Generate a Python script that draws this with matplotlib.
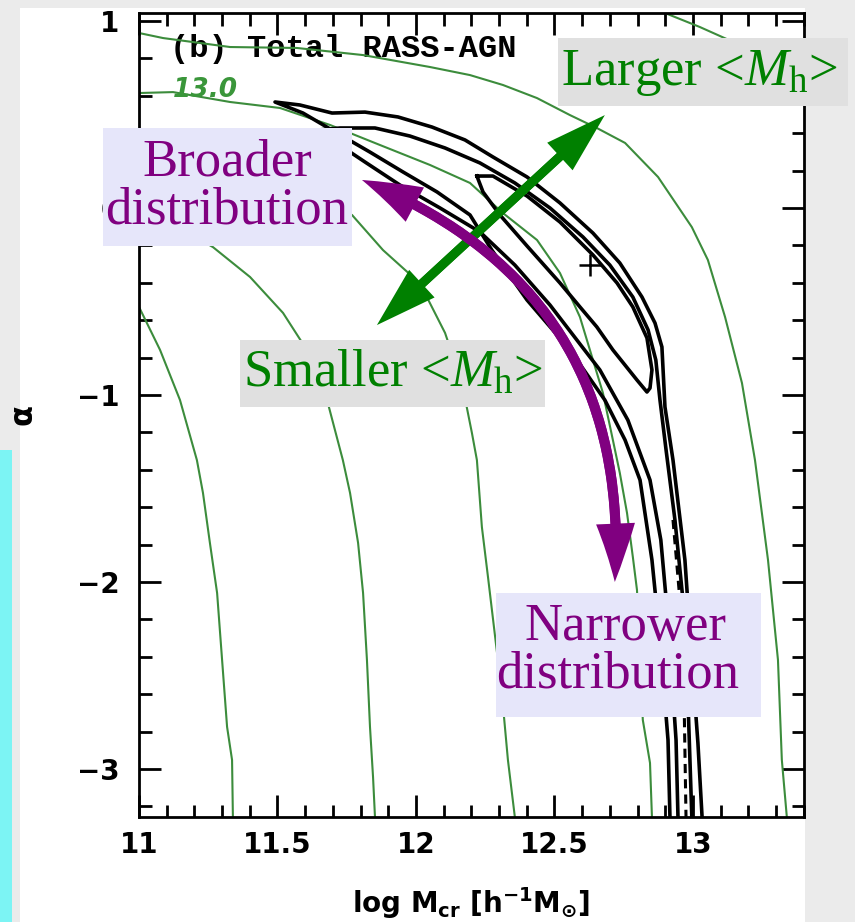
import numpy as np
import matplotlib
matplotlib.use('Agg')
import matplotlib.pyplot as plt
import matplotlib.patches as patches
from matplotlib.ticker import MultipleLocator

plt.rcParams['mathtext.fontset'] = 'custom'
plt.rcParams['mathtext.rm'] = 'Liberation Serif'
plt.rcParams['mathtext.it'] = 'Liberation Serif:italic'
plt.rcParams['mathtext.bf'] = 'Liberation Serif:bold'

# %%

# data: (log M_cr, alpha)

x_ticks = [11, 11.5, 12, 12.5, 13]
x_ticklabels = ['11', '11.5', '12', '12.5', '13']
y_ticks = [1, 0, -1, -2, -3]
y_ticklabels = ['1', '0', '\u22121', '\u22122', '\u22123']

# green iso-<M_h> curves
mh_a_x = [11.000, 11.076, 11.148, 11.209, 11.231, 11.256, 11.282, 11.300, 11.318, 11.336, 11.339]
mh_a_y = [-0.529, -0.759, -1.027, -1.348, -1.524, -1.791, -2.059, -2.417, -2.775, -2.952, -3.257]

mh_b_x = [11.000, 11.130, 11.267, 11.401, 11.520, 11.606, 11.679, 11.736, 11.762, 11.791, 11.809,
          11.823, 11.834, 11.845, 11.852]
mh_b_y = [-0.021, -0.091, -0.209, -0.369, -0.561, -0.759, -1.027, -1.348, -1.524, -1.791, -2.059,
          -2.417, -2.775, -3.043, -3.257]

mh_c_x = [11.000, 11.401, 11.769, 11.881, 11.989, 12.032, 12.105, 12.166, 12.202, 12.220, 12.238,
          12.260, 12.310, 12.332, 12.357]
mh_c_y = [0.310, 0.150, -0.037, -0.225, -0.369, -0.455, -0.668, -0.936, -1.203, -1.348, -1.706,
          -1.973, -2.594, -2.952, -3.257]

mh_d_x = [11.000, 11.123, 11.329, 11.509, 11.690, 11.870, 12.051, 12.195, 12.314, 12.437, 12.520,
          12.592, 12.628, 12.675, 12.711, 12.736, 12.762, 12.783, 12.798, 12.819, 12.845, 12.852]
mh_d_y = [0.615, 0.620, 0.567, 0.535, 0.444, 0.337, 0.230, 0.134, -0.027, -0.171, -0.348,
          -0.583, -0.759, -0.989, -1.241, -1.417, -1.631, -1.866, -2.043, -2.738, -2.968, -3.257]

mh_e_x = [11.000, 11.087, 11.329, 11.570, 11.809, 12.051, 12.195, 12.314, 12.437, 12.556, 12.653,
          12.755, 12.874, 12.996, 13.054, 13.116, 13.177, 13.224, 13.271, 13.307, 13.321, 13.339]
mh_e_y = [0.936, 0.909, 0.861, 0.856, 0.818, 0.754, 0.711, 0.658, 0.588, 0.497, 0.428,
          0.348, 0.166, -0.102, -0.278, -0.583, -0.936, -1.348, -1.882, -2.417, -2.952, -3.257]

mh_f_x = [12.899, 13.025, 13.170, 13.314, 13.401]
mh_f_y = [1.043, 0.968, 0.872, 0.738, 0.604]

# black likelihood contours
outer_x = [12.917, 12.910, 12.881, 12.852, 12.809, 12.755, 12.682, 12.556, 12.401, 12.274, 12.195,
           12.076, 11.953, 11.834, 11.715, 11.592, 11.491,
           11.581, 11.697, 11.816, 11.935, 12.058, 12.177, 12.278, 12.401, 12.520, 12.639,
           12.736, 12.816, 12.863, 12.888, 12.899, 12.928, 12.971, 12.996, 13.018, 13.033]
outer_y = [-3.257, -2.845, -2.310, -1.882, -1.455, -1.241, -1.027, -0.759, -0.492, -0.225, -0.037,
           0.086, 0.193, 0.299, 0.401, 0.508, 0.567,
           0.551, 0.508, 0.513, 0.487, 0.433, 0.364, 0.273, 0.166, 0.027, -0.134,
           -0.294, -0.476, -0.615, -0.743, -1.064, -1.348, -1.882, -2.417, -2.861, -3.257]

middle_x = [12.946, 12.939, 12.910, 12.884, 12.845, 12.765, 12.664, 12.484, 12.357, 12.231, 12.087,
            11.942, 11.816, 11.708, 11.646,
            11.726, 11.852, 11.978, 12.105, 12.231, 12.357, 12.484, 12.603, 12.700, 12.783,
            12.838, 12.866, 12.881, 12.903, 12.935, 12.964, 12.982, 12.996]
middle_y = [-3.257, -2.845, -2.203, -1.775, -1.455, -1.134, -0.866, -0.519, -0.305, -0.128, 0.000,
            0.123, 0.246, 0.353, 0.417,
            0.428, 0.428, 0.385, 0.321, 0.241, 0.134, 0.000, -0.155, -0.305, -0.476,
            -0.652, -0.813, -1.027, -1.294, -1.668, -2.096, -2.631, -3.257]

inner_x = [12.220, 12.278, 12.401, 12.520, 12.639, 12.726, 12.783, 12.834, 12.852, 12.845, 12.834,
           12.798, 12.711, 12.653, 12.592, 12.520, 12.401, 12.303, 12.242, 12.220]
inner_y = [0.171, 0.171, 0.064, -0.075, -0.251, -0.401, -0.529, -0.695, -0.866, -0.963, -0.984,
           -0.920, -0.759, -0.636, -0.529, -0.401, -0.203, -0.037, 0.086, 0.171]

ridge_x = [12.928, 12.953, 12.968, 12.975]
ridge_y = [-1.668, -2.096, -2.631, -3.257]

best_fit = (12.628, -0.305)

# annotation arrow ends
small_end = (11.859, -0.626)
large_end = (12.682, 0.497)
broad_end = (11.805, 0.150)
narrow_end = (12.718, -2.000)

# %%

W, H = 855, 922


def fx(px):
    return px / W


def fy(py):
    return 1 - py / H


def box(x0, y0, x1, y1, color):
    fig.add_artist(patches.Rectangle((fx(x0), fy(y1)), (x1 - x0) / W, (y1 - y0) / H,
                                     transform=fig.transFigure, fc=color, ec='none',
                                     zorder=5))


def label(px, py, s, color):
    fig.text(fx(px), fy(py), s, ha='center', va='baseline', fontsize=38,
             family='Liberation Serif', color=color, zorder=6)


def double_arrow(a, b, rad, color, head_length, head_width, tail_width):
    style = patches.ArrowStyle.Simple(head_length=head_length, head_width=head_width,
                                      tail_width=tail_width)
    for p, q, r in [(a, b, rad), (b, a, -rad)]:
        ax.add_patch(patches.FancyArrowPatch(
            p, q, arrowstyle=style, mutation_scale=1, shrinkA=30, shrinkB=0,
            connectionstyle='arc3,rad={}'.format(r), color=color, lw=0,
            clip_on=False, zorder=6))


fig = plt.figure(figsize=(8.55, 9.22), dpi=100, facecolor='#ebebeb')

# scanned page + side strip
fig.add_artist(patches.Rectangle((fx(20), 0), (805 - 20) / W, 1 - 8 / H,
                                 transform=fig.transFigure, fc='white', ec='none', zorder=-5))
fig.add_artist(patches.Rectangle((0, 0), fx(12), 472 / H,
                                 transform=fig.transFigure, fc='#7cf4f4', ec='none', zorder=-4))

ax = fig.add_axes([fx(139), fy(817), (804 - 139) / W, (817 - 13) / H])

green = '#3c8c3c'
for xs, ys in [(mh_a_x, mh_a_y), (mh_b_x, mh_b_y), (mh_c_x, mh_c_y),
               (mh_d_x, mh_d_y), (mh_e_x, mh_e_y), (mh_f_x, mh_f_y)]:
    ax.plot(xs, ys, color=green, lw=1.5, zorder=2)

for xs, ys in [(outer_x, outer_y), (middle_x, middle_y), (inner_x, inner_y)]:
    ax.plot(xs, ys, color='black', lw=2.6, zorder=3)
ax.plot(ridge_x, ridge_y, color='black', lw=2.2, ls=(0, (3, 2)), zorder=3)
ax.plot(*best_fit, marker='+', ms=16, mew=1.8, color='black', zorder=4)

ax.text(11.112, 0.807, '(b) Total RASS-AGN', family='Liberation Mono', weight='bold',
        fontsize=23, va='baseline', zorder=1)
ax.text(11.123, 0.594, '13.0', color='#3a963a', fontsize=19, weight='bold',
        style='italic', va='baseline')

ax.set_xlim(11, 13.401)
ax.set_ylim(-3.257, 1.043)
ax.set_xticks(x_ticks, labels=x_ticklabels)
ax.set_yticks(y_ticks, labels=y_ticklabels)
ax.xaxis.set_minor_locator(MultipleLocator(0.1))
ax.yaxis.set_minor_locator(MultipleLocator(0.2))
ax.tick_params(which='both', direction='in', top=True, right=True, width=2)
ax.tick_params(which='major', length=16, labelsize=20)
ax.tick_params(axis='x', which='major', pad=10)
ax.tick_params(axis='y', which='major', pad=14)
ax.tick_params(which='minor', length=9)
for lab in ax.get_xticklabels() + ax.get_yticklabels():
    lab.set_fontweight('bold')
for s in ax.spines.values():
    s.set_linewidth(2)

ax.set_xlabel(r'log $\mathbf{M}_{\mathbf{cr}}$ [$\mathbf{h^{-1}M_{\odot}}$]', fontsize=20,
              fontweight='bold', math_fontfamily='dejavusans')
ax.xaxis.set_label_coords(0.5, -0.0846)
ax.set_ylabel('\u03b1', fontsize=22, fontweight='bold')
ax.yaxis.set_label_coords(-0.152, 0.501)

# annotations
double_arrow(small_end, large_end, 0, '#008000', 44, 27, 6.5)
double_arrow(broad_end, narrow_end, -0.36, '#800080', 42, 28, 7.2)

box(103, 128, 352, 246, '#e6e6fa')
box(558, 38, 848, 106, '#e0e0e0')
box(240, 340, 545, 407, '#e0e0e0')
box(496, 593, 761, 717, '#e6e6fa')

label(227, 175, 'Broader', '#800080')
label(227, 223, 'distribution', '#800080')
label(699, 85, r'Larger <$M_{\rm h}$>', '#008000')
label(393, 387, r'Smaller <$M_{\rm h}$>', '#008000')
label(625, 640, 'Narrower', '#800080')
label(618, 688, 'distribution', '#800080')

fig.savefig('out.png', dpi=100)
